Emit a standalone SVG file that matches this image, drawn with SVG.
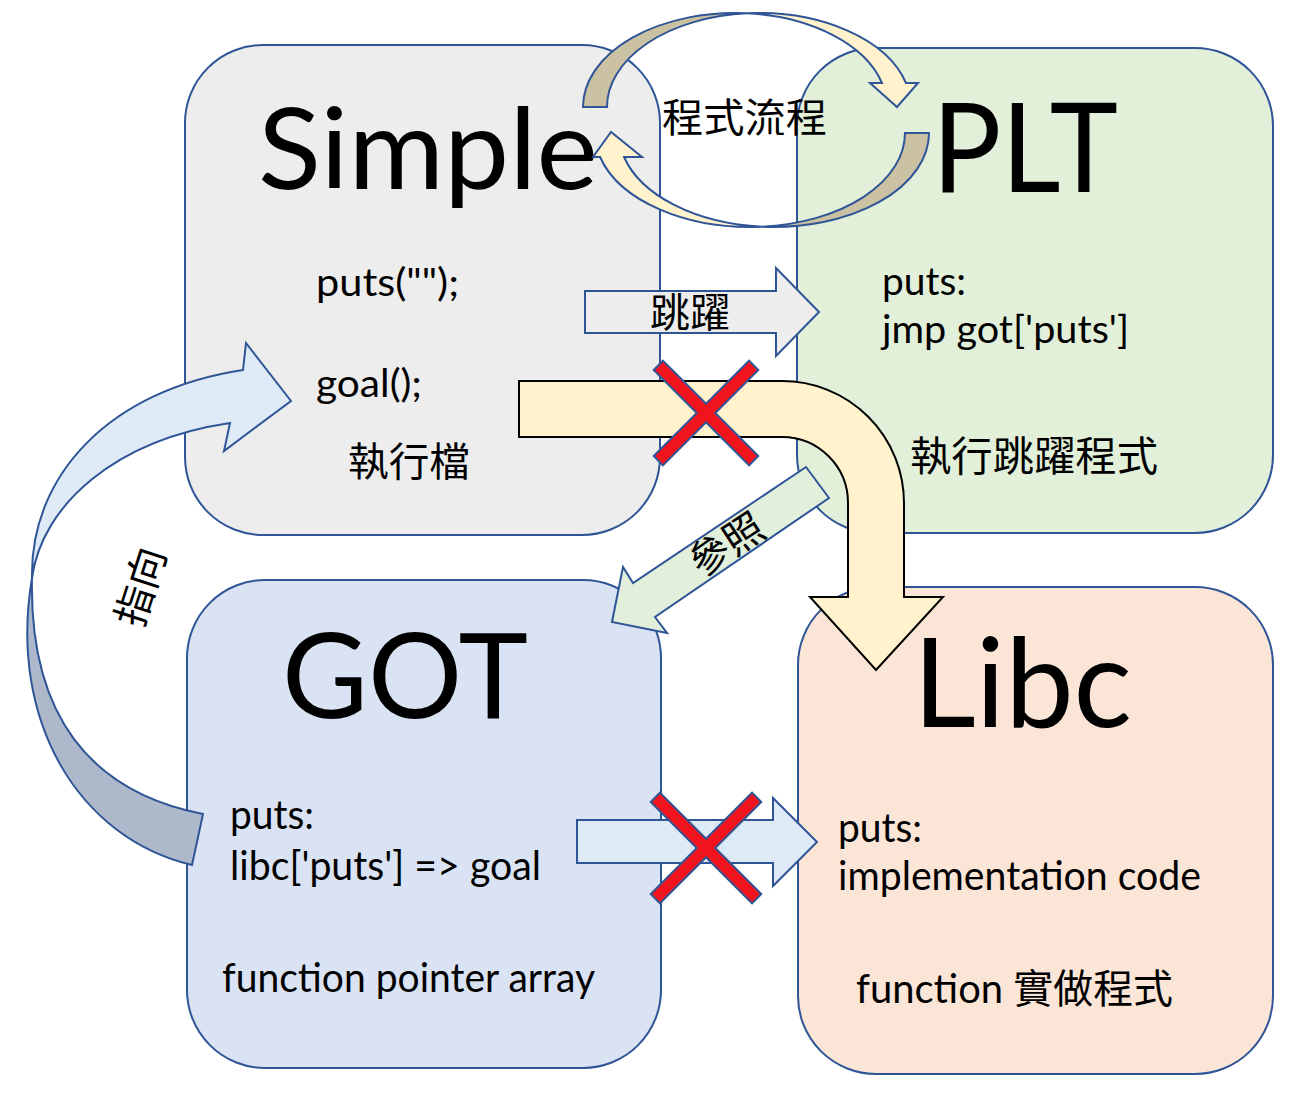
<svg xmlns="http://www.w3.org/2000/svg" width="1306" height="1098" viewBox="0 0 1306 1098">
<style>
.box{stroke:#2f5597;stroke-width:2}
.arr{stroke:#2f5597;stroke-width:2;stroke-linejoin:miter}
.t{font-family:Lato,"Noto Sans CJK TC",sans-serif;fill:#000}
.c{font-family:"Noto Sans CJK TC","Noto Sans CJK SC",sans-serif;fill:#000}
.xo{stroke:#2f5597;stroke-width:15;stroke-linecap:butt}
.xr{stroke:#f0141e;stroke-width:11;stroke-linecap:butt}
</style>
<rect width="1306" height="1098" fill="#ffffff"/>
<g id="node-simple">
<rect class="box" x="185" y="45" width="475" height="490" rx="78" fill="#ededed"/>
<text class="t" x="258" y="189" font-size="112" textLength="340" lengthAdjust="spacingAndGlyphs">Simple</text>
<text class="t" x="316" y="296" font-size="39" textLength="143" lengthAdjust="spacingAndGlyphs">puts("");</text>
<text class="t" x="316" y="397" font-size="39" textLength="106" lengthAdjust="spacingAndGlyphs">goal();</text>
<text class="c" x="348" y="476" font-size="40" textLength="122" lengthAdjust="spacingAndGlyphs">執行檔</text>
</g>
<g id="node-plt">
<rect class="box" x="797" y="48" width="476" height="485" rx="78" fill="#e2f0d9"/>
<text class="t" x="932" y="192" font-size="124" textLength="186" lengthAdjust="spacingAndGlyphs">PLT</text>
<text class="t" x="882" y="295" font-size="39" textLength="84" lengthAdjust="spacingAndGlyphs">puts:</text>
<text class="t" x="882" y="343" font-size="39" textLength="247" lengthAdjust="spacingAndGlyphs">jmp got['puts']</text>
<text class="c" x="910" y="471" font-size="41" textLength="248" lengthAdjust="spacingAndGlyphs">執行跳躍程式</text>
</g>
<g id="node-got">
<rect class="box" x="187" y="580" width="474" height="488" rx="78" fill="#dae3f3"/>
<text class="t" x="282" y="718" font-size="118" textLength="246" lengthAdjust="spacingAndGlyphs">GOT</text>
<text class="t" x="230" y="829" font-size="40" textLength="84" lengthAdjust="spacingAndGlyphs">puts:</text>
<text class="t" x="230" y="880" font-size="40" textLength="311" lengthAdjust="spacingAndGlyphs">libc['puts'] =&gt; goal</text>
<text class="t" x="222" y="992" font-size="40" textLength="373" lengthAdjust="spacingAndGlyphs">function pointer array</text>
</g>
<g id="node-libc">
<rect class="box" x="798" y="587" width="475" height="487" rx="78" fill="#fbe5d6"/>
<text class="t" x="913" y="727" font-size="124" textLength="219" lengthAdjust="spacingAndGlyphs">Libc</text>
<text class="t" x="838" y="842" font-size="40" textLength="84" lengthAdjust="spacingAndGlyphs">puts:</text>
<text class="t" x="838" y="890" font-size="40" textLength="363" lengthAdjust="spacingAndGlyphs">implementation code</text>
<text class="t" x="856" y="1003" font-size="40" textLength="317" lengthAdjust="spacingAndGlyphs">function 實做程式</text>
</g>
<g id="connectors">
<g id="flow-top">
<path class="arr" fill="#cbc2a4" d="M583,107 A152,94 0 0 1 747,13.3 A152,94 0 0 0 607,107 Z"/>
<path class="arr" fill="#fff2cc" d="M747,13.3 A152,94 0 0 1 882,83 L870,83 L897,107 L918,83 L906,83 A152,94 0 0 0 747,13.3 Z"/>
</g>
<g id="flow-bottom">
<path class="arr" fill="#cbc2a4" d="M929,133 A155,94 0 0 1 762,226.7 A155,94 0 0 0 905,133 Z"/>
<path class="arr" fill="#fff2cc" d="M762,226.7 A155,94 0 0 1 624.1,157 L642,157 L611,132 L593,157 L600.1,157 A155,94 0 0 0 762,226.7 Z"/>
</g>
<path id="jump" class="arr" fill="#ededed" d="M585,291 L776,291 L776,268 L819,312 L776,356 L776,333 L585,333 Z"/>
<path id="call-libc" fill="#fff2cc" stroke="#000" stroke-width="2" d="M519,381 L782,381 A122,122 0 0 1 904,503 L904,597 L943,597 L876,670 L810,597 L848,597 L848,503 A66,66 0 0 0 782,437 L519,437 Z"/>
<path id="refer" class="arr" fill="#e2efda" d="M806,467 L829,498 L655,617 L667,633 L612,622 L623,567 L633,583 Z"/>
<g id="point-to">
<path class="arr" fill="#adb9ca" d="M32,578 C8,720 78,838 192,865 L203,814 C90,792 29,715 32,578 Z"/>
<path class="arr" fill="#deebf7" d="M243,370 C110,390 30,475 32,578 C42,505 115,440 230,423 L224,451 L291,401 L246,343 Z"/>
</g>
<path id="got-libc" class="arr" fill="#deebf7" d="M577,820 L773,820 L773,798 L817,842 L773,886 L773,863 L577,863 Z"/>
<g id="cross-top">
<line class="xo" x1="657.6" y1="364.6" x2="754.4" y2="461.4"/>
<line class="xo" x1="754.4" y1="364.6" x2="657.6" y2="461.4"/>
<line class="xr" x1="659" y1="366" x2="753" y2="460"/>
<line class="xr" x1="753" y1="366" x2="659" y2="460"/>
</g>
<g id="cross-bottom">
<line class="xo" x1="654.6" y1="796.6" x2="757.4" y2="899.4"/>
<line class="xo" x1="757.4" y1="796.6" x2="654.6" y2="899.4"/>
<line class="xr" x1="656" y1="798" x2="756" y2="898"/>
<line class="xr" x1="756" y1="798" x2="656" y2="898"/>
</g>
</g>
<g id="labels">
<text class="c" x="662" y="132" font-size="40" textLength="165" lengthAdjust="spacingAndGlyphs">程式流程</text>
<text class="c" x="650" y="327" font-size="40" textLength="80" lengthAdjust="spacingAndGlyphs">跳躍</text>
<text class="c" x="0" y="14" font-size="40" text-anchor="middle" transform="translate(727,545) rotate(-33)">參照</text>
<text class="c" x="0" y="14" font-size="40" text-anchor="middle" transform="translate(141,587) rotate(-72)">指向</text>
</g>
</svg>
